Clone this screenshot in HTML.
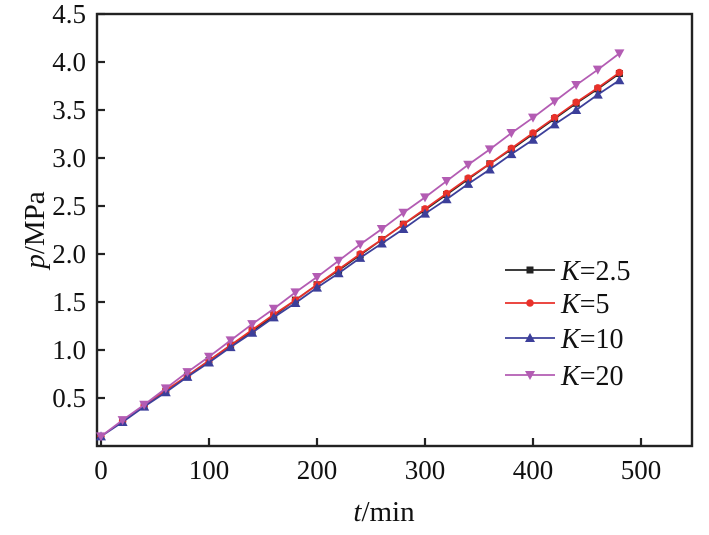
<!DOCTYPE html>
<html><head><meta charset="utf-8"><style>
body{margin:0;background:#fff;}
svg text{font-family:"Liberation Serif",serif;fill:#111;}
</style></head><body>
<svg id="chart" width="709" height="530" viewBox="0 0 709 530">
<rect x="97" y="14" width="595" height="432" fill="none" stroke="#222" stroke-width="2.4"/>
<g id="ticks"></g>
<g id="series"></g>
<text transform="translate(44,230) rotate(-90)" text-anchor="middle" font-size="29"><tspan font-style="italic">p</tspan>/MPa</text>
<text x="384" y="521" text-anchor="middle" font-size="29"><tspan font-style="italic">t</tspan>/min</text>
<g id="legend"></g>
</svg>
<script>
const times=[0,20,40,60,80,100,120,140,160,180,200,220,240,260,280,300,320,340,360,380,400,420,440,460,480];
const k25=[0.10,0.26,0.42,0.57,0.73,0.89,1.05,1.20,1.36,1.52,1.68,1.83,1.99,2.15,2.31,2.46,2.62,2.78,2.94,3.09,3.25,3.41,3.57,3.72,3.88];
const k5=[0.10,0.26,0.42,0.58,0.73,0.89,1.05,1.21,1.37,1.52,1.68,1.84,2.00,2.15,2.31,2.47,2.63,2.79,2.94,3.10,3.26,3.42,3.58,3.73,3.89];
const k10=[0.10,0.25,0.41,0.56,0.72,0.87,1.03,1.18,1.34,1.49,1.65,1.80,1.96,2.11,2.26,2.42,2.57,2.73,2.88,3.04,3.19,3.35,3.50,3.66,3.81];
const k20=[0.10,0.27,0.43,0.60,0.77,0.93,1.10,1.27,1.43,1.60,1.76,1.93,2.10,2.26,2.43,2.59,2.76,2.93,3.09,3.26,3.42,3.59,3.76,3.92,4.09];
const xTicks=[0,100,200,300,400,500];
const yTicks=[0.5,1.0,1.5,2.0,2.5,3.0,3.5,4.0,4.5];
const seriesNames=["K=2.5","K=5","K=10","K=20"];
const NS="http://www.w3.org/2000/svg";
function X(t){return 101+t*1.08;}
function Y(v){return 446-v*96;}
function mk(tag,attrs,parent){const e=document.createElementNS(NS,tag);for(const k in attrs)e.setAttribute(k,attrs[k]);parent.appendChild(e);return e;}
const tg=document.getElementById('ticks');
xTicks.forEach(t=>{
 const l=mk('line',{x1:X(t),x2:X(t),y1:446,y2:438,stroke:'#222','stroke-width':2.2},tg);
 
 
 const tx=mk('text',{x:X(t),y:479,'text-anchor':'middle','font-size':27},tg);
 
 
 tx.textContent=t;
});
yTicks.forEach(v=>{
 const l=mk('line',{x1:97,x2:105,y1:Y(v),y2:Y(v),stroke:'#222','stroke-width':2.2},tg);
 
 
 const tx=mk('text',{x:86,y:Y(v)+9,'text-anchor':'end','font-size':27},tg);
 
 
 tx.textContent=v.toFixed(1);
});
const sg=document.getElementById('series');
const colors=['#222222','#e8312a','#3c3f9a','#b35cb3'];
const shapes=['sq','ci','up','down'];
function marker(g,shape,x,y,c){
 let e;
 if(shape==='sq')e=mk('rect',{x:x-3.5,y:y-3.5,width:7,height:7,fill:c},g);
 else if(shape==='ci')e=mk('circle',{cx:x,cy:y,r:3.8,fill:c},g);
 else if(shape==='up')e=mk('polygon',{points:`${x},${y-5} ${x-5},${y+4} ${x+5},${y+4}`,fill:c},g);
 else e=mk('polygon',{points:`${x},${y+5} ${x-5},${y-4} ${x+5},${y-4}`,fill:c},g);
 
 
}
[k25,k5,k10,k20].forEach((vals,i)=>{
 const g=mk('g',{},sg);
 
 
 const pts=times.map((t,j)=>X(t)+','+Y(vals[j])).join(' ');
 mk('polyline',{points:pts,fill:'none',stroke:colors[i],'stroke-width':1.8},g);
 times.forEach((t,j)=>marker(g,shapes[i],X(t),Y(vals[j]),colors[i]));
});
const lg=document.getElementById('legend');
const ly=[270,303,338,375];
seriesNames.forEach((n,i)=>{
 const g=mk('g',{},lg);
 
 
 mk('line',{x1:505,x2:555,y1:ly[i],y2:ly[i],stroke:colors[i],'stroke-width':1.8},g);
 marker(g,shapes[i],530,ly[i],colors[i]);
 const tx=mk('text',{x:561,y:ly[i]+10,'font-size':28},g);
 tx.innerHTML='<tspan font-style="italic">K</tspan>='+n.split('=')[1];
});
</script>
</body></html>
